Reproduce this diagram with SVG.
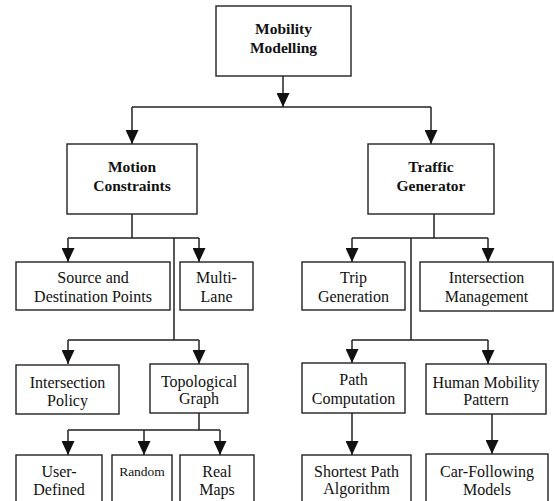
<svg xmlns="http://www.w3.org/2000/svg" width="554" height="501" viewBox="0 0 554 501" font-family="Liberation Serif, Times New Roman, DejaVu Serif, serif">
<style>
.box{fill:#fff;stroke:#222;stroke-width:1.4}
.t{font-size:16px;fill:#111;text-anchor:middle}
.b{font-weight:bold;font-size:15.5px}
.s{font-size:13.5px}
.c{fill:none;stroke:#222;stroke-width:1.5}
</style>
<defs>
<marker id="ah" markerUnits="userSpaceOnUse" markerWidth="15" markerHeight="13" refX="14" refY="6.5" orient="auto">
<path d="M0,0 L14,6.5 L0,13 Z" fill="#111"/>
</marker>
</defs>
<rect width="554" height="501" fill="#fff"/>
<g id="connectors">
<path class="c" d="M283,76 V107" marker-end="url(#ah)"/>
<path class="c" d="M132,107 H431"/>
<path class="c" d="M132,107 V144" marker-end="url(#ah)"/>
<path class="c" d="M431,107 V144" marker-end="url(#ah)"/>
<path class="c" d="M132,214 V238 M68,238 H199 M174,238 V340 M68,340 H199"/>
<path class="c" d="M68,238 V262" marker-end="url(#ah)"/>
<path class="c" d="M199,238 V262" marker-end="url(#ah)"/>
<path class="c" d="M68,340 V364" marker-end="url(#ah)"/>
<path class="c" d="M199,340 V364" marker-end="url(#ah)"/>
<path class="c" d="M199,413 V430 M68,430 H220"/>
<path class="c" d="M68,430 V455" marker-end="url(#ah)"/>
<path class="c" d="M144,430 V455" marker-end="url(#ah)"/>
<path class="c" d="M220,430 V455" marker-end="url(#ah)"/>
<path class="c" d="M434,214 V238 M352,238 H488 M411,238 V340 M352,340 H488"/>
<path class="c" d="M352,238 V262" marker-end="url(#ah)"/>
<path class="c" d="M488,238 V262" marker-end="url(#ah)"/>
<path class="c" d="M352,340 V363" marker-end="url(#ah)"/>
<path class="c" d="M488,340 V364" marker-end="url(#ah)"/>
<path class="c" d="M352,413 V455" marker-end="url(#ah)"/>
<path class="c" d="M492,414 V454" marker-end="url(#ah)"/>
</g>
<g id="mobility-modelling">
<rect class="box" x="216" y="6" width="135" height="70"/>
<text class="t b" x="283.5" y="34">Mobility</text>
<text class="t b" x="283.5" y="53">Modelling</text>
</g>
<g id="motion-constraints">
<rect class="box" x="67" y="144" width="130" height="70"/>
<text class="t b" x="132" y="172">Motion</text>
<text class="t b" x="132" y="191">Constraints</text>
</g>
<g id="traffic-generator">
<rect class="box" x="368" y="144" width="126" height="70"/>
<text class="t b" x="431" y="172">Traffic</text>
<text class="t b" x="431" y="191">Generator</text>
</g>
<g id="source-destination">
<rect class="box" x="16" y="262" width="154" height="48"/>
<text class="t" x="93" y="283">Source and</text>
<text class="t" x="93" y="302">Destination Points</text>
</g>
<g id="multi-lane">
<rect class="box" x="180" y="262" width="73" height="48"/>
<text class="t" x="216.5" y="283">Multi-</text>
<text class="t" x="216.5" y="302">Lane</text>
</g>
<g id="trip-generation">
<rect class="box" x="302" y="262" width="103" height="48"/>
<text class="t" x="353.5" y="283">Trip</text>
<text class="t" x="353.5" y="302">Generation</text>
</g>
<g id="intersection-management">
<rect class="box" x="420" y="262" width="133" height="49"/>
<text class="t" x="486.5" y="283">Intersection</text>
<text class="t" x="486.5" y="302">Management</text>
</g>
<g id="intersection-policy">
<rect class="box" x="16" y="365" width="103" height="49"/>
<text class="t" x="67.5" y="388">Intersection</text>
<text class="t" x="67.5" y="406">Policy</text>
</g>
<g id="topological-graph">
<rect class="box" x="150" y="364" width="98" height="49"/>
<text class="t" x="199" y="387">Topological</text>
<text class="t" x="199" y="404">Graph</text>
</g>
<g id="path-computation">
<rect class="box" x="302" y="363" width="103" height="50"/>
<text class="t" x="353.5" y="385">Path</text>
<text class="t" x="353.5" y="404">Computation</text>
</g>
<g id="human-mobility-pattern">
<rect class="box" x="426" y="364" width="120" height="50"/>
<text class="t" x="486" y="388">Human Mobility</text>
<text class="t" x="486" y="405">Pattern</text>
</g>
<g id="user-defined">
<rect class="box" x="16" y="455" width="86" height="60"/>
<text class="t" x="59" y="477">User-</text>
<text class="t" x="59" y="495">Defined</text>
</g>
<g id="random">
<rect class="box" x="112" y="455" width="60" height="60"/>
<text class="t s" x="142" y="476">Random</text>
</g>
<g id="real-maps">
<rect class="box" x="180" y="455" width="74" height="60"/>
<text class="t" x="217" y="477">Real</text>
<text class="t" x="217" y="495">Maps</text>
</g>
<g id="shortest-path-algorithm">
<rect class="box" x="302" y="455" width="109" height="60"/>
<text class="t" x="356.5" y="477">Shortest Path</text>
<text class="t" x="356.5" y="494">Algorithm</text>
</g>
<g id="car-following-models">
<rect class="box" x="426" y="454" width="122" height="60"/>
<text class="t" x="487" y="477">Car-Following</text>
<text class="t" x="487" y="495">Models</text>
</g>
</svg>
